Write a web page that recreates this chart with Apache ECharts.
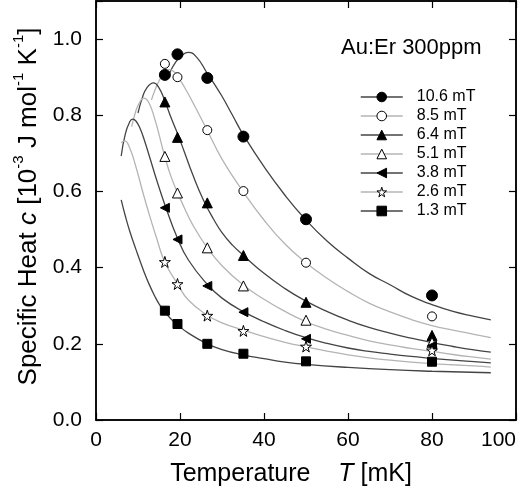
<!DOCTYPE html>
<html>
<head>
<meta charset="utf-8">
<script src="https://cdn.jsdelivr.net/npm/echarts@6/dist/echarts.min.js"></script>
<style>
html,body{margin:0;padding:0;background:#fff;}
#chart{width:523px;height:493px;}
</style>
</head>
<body>
<div id="chart"></div>
<script>
// ---- data ----
const fields = ['10.6 mT', '8.5 mT', '6.4 mT', '5.1 mT', '3.8 mT', '2.6 mT', '1.3 mT'];
const xTicks = [0, 20, 40, 60, 80, 100];
const yTicks = [0.0, 0.2, 0.4, 0.6, 0.8, 1.0];

// measured temperatures [mK]
const measT = [16.4, 19.4, 26.5, 35.1, 50.0, 80.0];
// measured specific heat [10^-3 J/mol K]
const c_10_6 = [0.906, 0.960, 0.898, 0.744, 0.527, 0.327];
const c_8_5  = [0.935, 0.900, 0.761, 0.601, 0.413, 0.272];
const c_6_4  = [0.835, 0.742, 0.570, 0.432, 0.309, 0.222];
const c_5_1  = [0.692, 0.596, 0.452, 0.352, 0.262, 0.204];
const c_3_8  = [0.557, 0.474, 0.352, 0.283, 0.213, 0.195];
const c_2_6  = [0.415, 0.357, 0.274, 0.234, 0.193, 0.183];
const c_1_3  = [0.287, 0.252, 0.200, 0.174, 0.154, 0.153];

// theory curves
const curveT_10_6 = [17.5, 19, 20.5, 22, 24, 26.5, 28, 30, 32.5, 35, 40, 45, 50, 55, 60, 65, 70, 75, 80, 85, 90, 94];
const curveC_10_6 = [0.91, 0.94, 0.958, 0.965, 0.952, 0.91, 0.885, 0.85, 0.80, 0.75, 0.665, 0.59, 0.525, 0.47, 0.425, 0.385, 0.355, 0.325, 0.303, 0.285, 0.272, 0.263];
const curveT_8_5 = [13.2, 14, 15, 16.3, 17.5, 18.5, 19.4, 21, 23, 26.5, 30, 35, 40, 45, 50, 55, 60, 65, 70, 75, 80, 85, 90, 94];
const curveC_8_5 = [0.84, 0.865, 0.89, 0.912, 0.92, 0.915, 0.903, 0.875, 0.835, 0.76, 0.685, 0.60, 0.525, 0.462, 0.413, 0.372, 0.337, 0.307, 0.284, 0.264, 0.248, 0.236, 0.225, 0.216];
const curveT_6_4 = [10, 11, 12, 13.7, 15, 16.3, 18, 19.4, 21, 23, 25.6, 28, 30, 32.5, 35, 40, 45, 50, 55, 60, 65, 70, 75, 80, 85, 90, 94];
const curveC_6_4 = [0.806, 0.845, 0.87, 0.885, 0.872, 0.84, 0.79, 0.752, 0.705, 0.645, 0.577, 0.527, 0.492, 0.459, 0.433, 0.385, 0.345, 0.312, 0.285, 0.262, 0.243, 0.228, 0.215, 0.203, 0.193, 0.184, 0.178];
const curveT_5_1 = [8.5, 9.5, 10.3, 11.3, 12.5, 14, 15, 16.3, 18, 20.5, 23, 26.5, 30, 35, 40, 45, 50, 55, 60, 65, 70, 75, 80, 85, 90, 94];
const curveC_5_1 = [0.77, 0.812, 0.832, 0.845, 0.835, 0.79, 0.75, 0.695, 0.635, 0.57, 0.513, 0.452, 0.405, 0.355, 0.317, 0.285, 0.258, 0.238, 0.222, 0.208, 0.197, 0.188, 0.18, 0.172, 0.165, 0.16];
const curveT_3_8 = [6.0, 7, 8, 8.7, 9.5, 10.5, 11.5, 13, 14.5, 16.5, 19.4, 22, 26.5, 30, 35, 40, 45, 50, 55, 60, 65, 70, 75, 80, 85, 90, 94];
const curveC_3_8 = [0.693, 0.752, 0.782, 0.79, 0.785, 0.765, 0.735, 0.682, 0.628, 0.562, 0.477, 0.42, 0.356, 0.32, 0.285, 0.258, 0.235, 0.216, 0.201, 0.189, 0.18, 0.173, 0.167, 0.162, 0.157, 0.153, 0.15];
const curveT_2_6 = [6.0, 6.8, 8, 9.5, 11.4, 13, 14.5, 16.3, 19.4, 22, 26.5, 30, 35, 40, 45, 50, 55, 60, 65, 70, 75, 80, 85, 90, 94];
const curveC_2_6 = [0.728, 0.733, 0.715, 0.665, 0.588, 0.528, 0.475, 0.417, 0.357, 0.315, 0.275, 0.255, 0.236, 0.219, 0.204, 0.192, 0.181, 0.171, 0.163, 0.157, 0.152, 0.148, 0.145, 0.142, 0.139];
const curveT_1_3 = [6.0, 7, 8, 9.5, 11.4, 12.5, 14, 15, 16.3, 17.8, 19.4, 22, 26.5, 30, 35, 40, 45, 50, 60, 70, 80, 94];
const curveC_1_3 = [0.578, 0.535, 0.497, 0.448, 0.39, 0.36, 0.325, 0.305, 0.285, 0.266, 0.25, 0.228, 0.2, 0.185, 0.171, 0.161, 0.152, 0.146, 0.138, 0.132, 0.128, 0.124];

const measC = [c_10_6, c_8_5, c_6_4, c_5_1, c_3_8, c_2_6, c_1_3];
const curveT = [curveT_10_6, curveT_8_5, curveT_6_4, curveT_5_1, curveT_3_8, curveT_2_6, curveT_1_3];
const curveC = [curveC_10_6, curveC_8_5, curveC_6_4, curveC_5_1, curveC_3_8, curveC_2_6, curveC_1_3];

// ---- styles ----
const STAR = 'path://M50,0 L61,35 L98,35 L68,57 L79,91 L50,70 L21,91 L32,57 L2,35 L39,35 Z';
const LEFTTRI = 'path://M0,50 L100,0 L100,100 Z';
const symbols = ['circle', 'circle', 'triangle', 'triangle', LEFTTRI, STAR, 'rect'];
const sizes = [11, 9, 10, 10, 9, 11, 9];
const fills = ['#000', '#fff', '#000', '#fff', '#000', '#fff', '#000'];
const lineColors = ['#444', '#b4b4b4', '#444', '#b4b4b4', '#444', '#b4b4b4', '#444'];
const FONT = '"Liberation Sans", Arial, Helvetica, sans-serif';

const series = [];
fields.forEach((f, i) => {
  series.push({
    name: f, type: 'line', smooth: 0.5,
    data: curveT[i].map((t, k) => [t, curveC[i][k]]),
    symbol: symbols[i], showSymbol: false, symbolSize: sizes[i],
    lineStyle: {color: lineColors[i], width: 1.3},
    itemStyle: {color: fills[i], borderColor: '#000', borderWidth: 1},
    z: 2, silent: true, animation: false
  });
});
fields.forEach((f, i) => {
  series.push({
    name: f + ' data', type: 'scatter',
    data: measT.map((t, k) => [t, measC[i][k]]),
    symbol: symbols[i], symbolSize: sizes[i],
    itemStyle: {color: fills[i], borderColor: '#000', borderWidth: 1, opacity: 1},
    z: 3, animation: false
  });
});
// empty series so that the mirrored top/right axes are rendered
series.push({name: 'frame', type: 'line', xAxisIndex: 1, yAxisIndex: 1, data: [], silent: true});

const legendData = fields.map((f, i) => ({
  name: f,
  itemStyle: {color: fills[i], borderColor: '#000', borderWidth: 1},
  lineStyle: {color: lineColors[i], width: 1.5}
}));

const chart = echarts.init(document.getElementById('chart'), null, {renderer: 'canvas'});
const commonX = {type: 'value', min: xTicks[0], max: xTicks[xTicks.length - 1], interval: 20, splitLine: {show: false}};
const commonY = {type: 'value', min: 0, max: 1.1, interval: 0.2, splitLine: {show: false}};
const frameLine = () => ({show: true, onZero: false, lineStyle: {color: '#000', width: 1.5}});
const inTick = () => ({show: true, inside: true, length: 7, lineStyle: {color: '#000', width: 1.2}});
chart.setOption({
  animation: false,
  grid: {left: 96, right: 7, top: 1, bottom: 73, containLabel: false, outerBoundsMode: 'none',
         show: true, borderColor: '#000', borderWidth: 1.5, backgroundColor: 'transparent'},
  title: {
    text: 'Au:Er 300ppm', left: 341, top: 37, padding: 0,
    textStyle: {fontFamily: FONT, fontSize: 22, fontWeight: 'normal', color: '#000'}
  },
  legend: {
    orient: 'vertical', left: 360, top: 89, padding: 0,
    data: legendData, itemWidth: 42, itemHeight: 12, itemGap: 3,
    selectedMode: false,
    textStyle: {fontFamily: FONT, fontSize: 16, color: '#000', lineHeight: 16, padding: [0, 0, 0, 9]}
  },
  xAxis: [
    Object.assign({}, commonX, {
      position: 'bottom',
      name: '{n|Temperature    }{i|T}{n| [mK]}', nameLocation: 'middle', nameGap: 42,
      nameTextStyle: {padding: [0, 30, 0, 0], rich: {
        n: {fontFamily: FONT, fontSize: 25, color: '#000'},
        i: {fontFamily: FONT, fontSize: 25, fontStyle: 'italic', color: '#000'}
      }},
      axisLine: frameLine(), axisTick: inTick(),
      axisLabel: {margin: 10, fontFamily: FONT, fontSize: 21, color: '#000', alignMaxLabel: 'right'}
    }),
    Object.assign({}, commonX, {
      position: 'top',
      axisLine: frameLine(), axisTick: inTick(),
      axisLabel: {show: false}
    })
  ],
  yAxis: [
    Object.assign({}, commonY, {
      position: 'left',
      name: '{n|Specific Heat }{i|c}{n| [10}{s|-3}{n| J mol}{s|-1}{n| K}{s|-1}{n|]}',
      nameLocation: 'middle', nameGap: 52,
      nameTextStyle: {padding: [0, 0, 0, 8], rich: {
        n: {fontFamily: FONT, fontSize: 26, color: '#000', verticalAlign: 'bottom', lineHeight: 31},
        i: {fontFamily: FONT, fontSize: 26, fontStyle: 'italic', color: '#000', verticalAlign: 'bottom', lineHeight: 31},
        s: {fontFamily: FONT, fontSize: 15, color: '#000', verticalAlign: 'top', lineHeight: 31}
      }},
      axisLine: frameLine(), axisTick: inTick(),
      axisLabel: {margin: 14, fontFamily: FONT, fontSize: 21, color: '#000',
        formatter: v => (Math.abs(v * 5 - Math.round(v * 5)) < 1e-6 ? v.toFixed(1) : '')}
    }),
    Object.assign({}, commonY, {
      position: 'right',
      axisLine: frameLine(), axisTick: inTick(),
      axisLabel: {show: false}
    })
  ],
  series: series
});
</script>
</body>
</html>
